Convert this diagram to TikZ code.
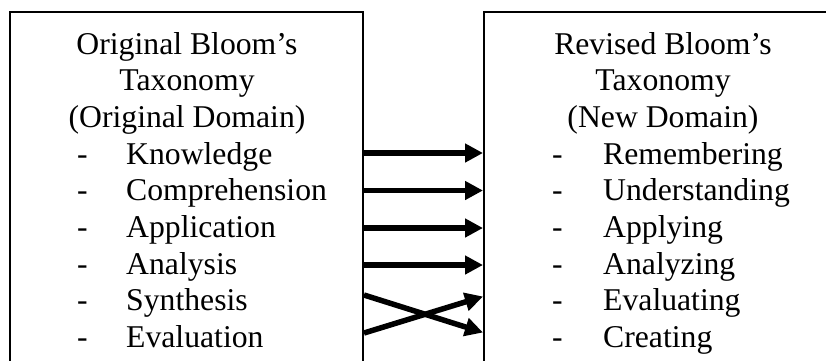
\documentclass[tikz,border=0pt]{standalone}
\usepackage{fontspec}
\setmainfont{Liberation Serif}
\usetikzlibrary{arrows.meta}
\begin{document}
\begin{tikzpicture}[x=1pt,y=-1pt,
  txt/.style={inner sep=0pt,font=\fontsize{31.7}{36.7}\selectfont},
  title/.style={txt,anchor=base},
  item/.style={txt,anchor=base west},
  boxline/.style={line width=1.2pt},
  arr/.style={line width=5.5pt,-{Triangle[length=18pt,width=18pt]}}]
\useasboundingbox (0,0) rectangle (826,360);
% boxes (bottom and right edges fall outside the picture)
\draw[boxline] (10,375) |- (363,12) -- (363,375);
\draw[boxline] (484,375) |- (845,12) -- (845,375);
% left box text
\node[title] (lt1) at (187,54) {Original Bloom’s};
\node[title] (lt2) at (187,90.7) {Taxonomy};
\node[title] (lt3) at (187,127.4) {(Original Domain)};
\foreach \i/\t/\y in {1/Knowledge/164.1,2/Comprehension/200.8,3/Application/237.5,4/Analysis/274.2,5/Synthesis/310.9,6/Evaluation/347.6}{
  \node[item] (ld\i) at (77,\y) {-};
  \node[item] (l\i) at (126,\y) {\t};
}
% right box text
\node[title] (rt1) at (663,54) {Revised Bloom’s};
\node[title] (rt2) at (663,90.7) {Taxonomy};
\node[title] (rt3) at (663,127.4) {(New Domain)};
\foreach \i/\t/\y in {1/Remembering/164.1,2/Understanding/200.8,3/Applying/237.5,4/Analyzing/274.2,5/Evaluating/310.9,6/Creating/347.6}{
  \node[item] (rd\i) at (552,\y) {-};
  \node[item] (r\i) at (603,\y) {\t};
}
% arrow endpoints
\coordinate (a1) at (364,153);  \coordinate (b1) at (483,153);
\coordinate (a2) at (364,190.5);\coordinate (b2) at (483,190.5);
\coordinate (a3) at (364,228);  \coordinate (b3) at (483,228);
\coordinate (a4) at (364,265);  \coordinate (b4) at (483,265);
\coordinate (a5) at (364,295);  \coordinate (b5) at (483,296.5);
\coordinate (a6) at (364,333);  \coordinate (b6) at (483,332.5);
\draw[arr] (a1) -- (b1);
\draw[arr] (a2) -- (b2);
\draw[arr] (a3) -- (b3);
\draw[arr] (a4) -- (b4);
\draw[arr] (a5) -- (b6);
\draw[arr] (a6) -- (b5);
\end{tikzpicture}
\end{document}
